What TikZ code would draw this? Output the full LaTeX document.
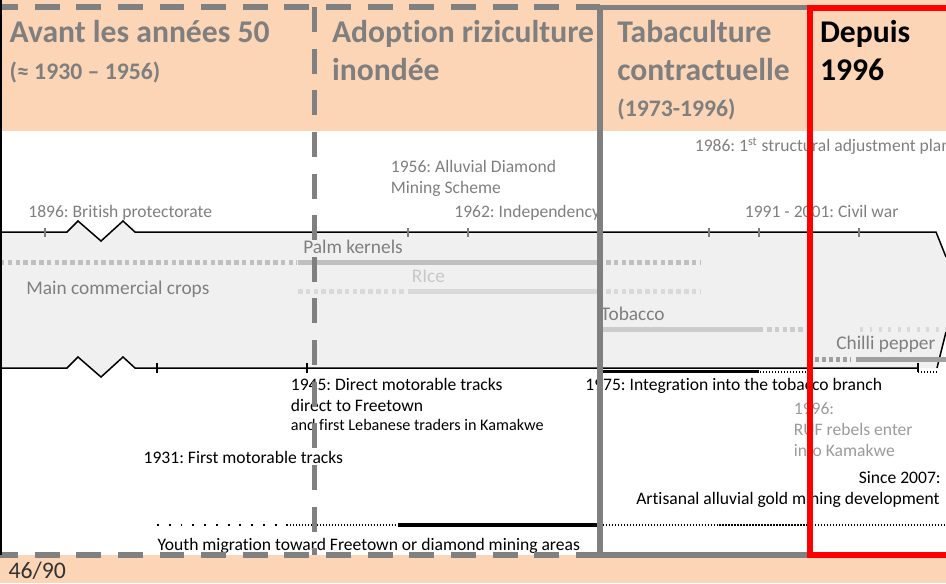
\documentclass[tikz,border=0pt]{standalone}
\usepackage{fontspec}
\setmainfont{Carlito}[Ligatures=NoCommon]
\usetikzlibrary{positioning}
\frenchspacing

\definecolor{peach}{RGB}{251,213,181}
\definecolor{sepgrey}{RGB}{128,128,128}
\definecolor{labgrey}{RGB}{127,127,127}
\definecolor{bandgrey}{RGB}{240,240,240}
\definecolor{palmgrey}{RGB}{191,191,191}
\definecolor{ricegrey}{RGB}{217,217,217}
\definecolor{tobgrey}{RGB}{204,204,204}
\definecolor{chilligrey}{RGB}{160,160,160}
\definecolor{rebelgrey}{RGB}{155,155,155}
\definecolor{ricelab}{RGB}{200,200,200}

\begin{document}
\begin{tikzpicture}[x=0.02cm, y=-0.02cm,
    title/.style={anchor=base west, inner sep=0pt, text=labgrey, font=\fontsize{18}{21}\selectfont\bfseries},
    subtitle/.style={anchor=base west, inner sep=0pt, text=labgrey, font=\fontsize{13.5}{16}\selectfont\bfseries},
    event/.style={anchor=base west, inner sep=0pt, text=labgrey, font=\fontsize{10}{12}\selectfont},
    croplab/.style={anchor=base west, inner sep=0pt, text=labgrey, font=\fontsize{11}{13}\selectfont},
    fact/.style={anchor=base west, inner sep=0pt, text=black, font=\fontsize{10}{12}\selectfont},
    cropsolid/.style={line width=2.85pt},
    cropdots/.style={line width=2.85pt, dash pattern=on 2.56pt off 1.88pt},
    densedots/.style={line width=1.2pt, dash pattern=on 0.8pt off 0.9pt},
    sep/.style={line width=3.1pt, sepgrey}]

    \useasboundingbox (0,0) rectangle (946,583);
    \clip (0,0) rectangle (946,583);

    % Header and footer bands
    \fill[peach] (0,0) rectangle (946,130.7);
    \fill[peach] (0,555) rectangle (946,583);

    % Timeline band
    \fill[bandgrey] (0,232) -- (67,232) -- (78,221) -- (101,241) -- (123,221) -- (135,232)
        -- (936,232) -- (946,257) -- (946,332) -- (937,368) -- (135,368) -- (123,357)
        -- (101,377) -- (78,357) -- (67,368) -- (0,368) -- cycle;
    \draw[line width=0.85pt] (0,232) -- (67,232) -- (78,221) -- (101,241) -- (123,221)
        -- (135,232) -- (936,232) -- (946,257);
    \draw[line width=0.85pt] (0,368) -- (67,368) -- (78,357) -- (101,377) -- (123,357)
        -- (135,368) -- (918,368);
    \draw[line width=0.85pt] (937,368) -- (946,332);

    % Ticks
    \foreach \t in {45,408,468,709,759,859}
        \draw[labgrey, line width=1.1pt] (\t,228) -- (\t,237);
    \foreach \t in {157,307}
        \draw[line width=1.1pt] (\t,363) -- (\t,373);

    % Crop lines
    \draw[cropdots, palmgrey] (0,262.5) -- (297,262.5);
    \draw[cropsolid, palmgrey] (298,262.5) -- (600,262.5);
    \draw[cropdots, palmgrey] (606,262.5) -- (700,262.5);
    \draw[cropdots, ricegrey] (298,291.5) -- (407,291.5);
    \draw[cropsolid, ricegrey] (408,291.5) -- (600,291.5);
    \draw[cropdots, ricegrey] (606,291.5) -- (700,291.5);
    \draw[cropsolid, tobgrey] (600,329.5) -- (763,329.5);
    \draw[cropdots, tobgrey] (767,329.5) -- (806,329.5);
    \draw[line width=2.85pt, ricegrey, dash pattern=on 1.7pt off 3.7pt] (860,329.5) -- (946,329.5);
    \draw[line width=3.2pt, chilligrey, dash pattern=on 2.3pt off 1.7pt] (815,359.5) -- (851,359.5);
    \draw[line width=3.2pt, chilligrey] (855.5,359.5) -- (946,359.5);

    % Grey events
    \node[event] (l1896) at (28,217.3) {1896: British protectorate};
    \node[event] (l1956) at (390.5,172.3) {1956: Alluvial Diamond};
    \node[event] (l1956b) at (390.5,193.3) {Mining Scheme};
    \node[event] (l1962) at (454,217.3) {1962: Independency};
    \node[event] (l1986) at (694.5,151.7) {1986: 1\textsuperscript{st} structural adjustment plan};
    \node[event] (l1991) at (744.5,217.3) {1991 - 2001: Civil war};

    % Crop labels
    \node[croplab] (palm) at (303,253.3) {Palm kernels};
    \node[croplab, text=ricelab] (rice) at (411.5,282.7) {RIce};
    \node[croplab] (crops) at (26,294) {Main commercial crops};
    \node[croplab] (tobacco) at (600.5,320.7) {Tobacco};
    \node[croplab] (chilli) at (836,349.3) {Chilli pepper};

    % Roads, branch, mining, migration
    \draw[line width=1.9pt] (603,371.7) -- (759,371.7);
    \draw[densedots] (760,371.7) -- (807,371.7);
    \draw[line width=0.9pt] (918,362.5) -- (918,371.7);
    \draw[densedots] (918,371.7) -- (937,371.7);
    \draw[line width=1.2pt, dash pattern=on 1.1pt off 5.6pt] (157,525) -- (290,525);
    \draw[densedots] (290,525) -- (397,525);
    \draw[line width=2.6pt] (398,525) -- (597,525);
    \draw[densedots] (603,525) -- (946,525);

    % Black facts
    \node[fact] (l1945) at (290.5,390.7) {1945: Direct motorable tracks};
    \node[fact] (l1945b) at (290.5,411.7) {direct to Freetown};
    \node[fact, font=\fontsize{9.2}{11}\selectfont] (l1945c) at (290.5,430) {and first Lebanese traders in Kamakwe};
    \node[fact] (l1931) at (143.3,463.3) {1931: First motorable tracks};
    \node[fact] (l1975) at (585,390.7) {1975: Integration into the tobacco branch};
    \node[event, text=rebelgrey] (l1996) at (793.5,414) {1996:};
    \node[event, text=rebelgrey] (l1996b) at (793.5,435) {RUF rebels enter};
    \node[event, text=rebelgrey] (l1996c) at (793.5,456) {into Kamakwe};
    \node[fact, anchor=base east] (since) at (941,483.3) {Since 2007:};
    \node[fact, anchor=base east] (gold) at (940,504) {Artisanal alluvial gold mining development};
    \node[fact] (youth) at (157.3,550) {Youth migration toward Freetown or diamond mining areas};
    \node[fact, text=black!80, font=\fontsize{13.5}{15}\selectfont] (pagenum) at (8.3,578.5) {46/90};

    % Period titles
    \node[title] (avant) at (9.3,42) {Avant les années 50};
    \node[subtitle] (avantdates) at (9.3,79) {(≈ 1930 – 1956)};
    \node[title] (adoption) at (331.7,42) {Adoption riziculture};
    \node[title] (inondee) at (331.7,80.7) {inondée};
    \node[title] (tabac) at (617,42) {Tabaculture};
    \node[title] (contract) at (617,80.7) {contractuelle};
    \node[subtitle] (tabacdates) at (617,116.7) {(1973-1996)};
    \node[title, text=black] (depuis) at (819.7,42) {Depuis};
    \node[title, text=black] (depuisyear) at (819.7,80.7) {1996};

    % Period frames
    \draw[sep, dash pattern=on 14.2pt off 9.5pt, dash phase=4pt] (0,7) -- (600,7);
    \draw[sep, dash pattern=on 14.2pt off 9.5pt, dash phase=4pt] (0,555) -- (600,555);
    \draw[sep, dash pattern=on 14.2pt off 9.5pt] (314.5,7) -- (314.5,555);
    \draw[sep, line join=round] (810,7.5) -- (600,7.5) -- (600,555) -- (810,555);
    \draw[line width=3.1pt, red] (960,8) -- (810,8) -- (810,555) -- (960,555);
    \draw[line width=1.1pt] (1,0) -- (1,555);
\end{tikzpicture}
\end{document}
